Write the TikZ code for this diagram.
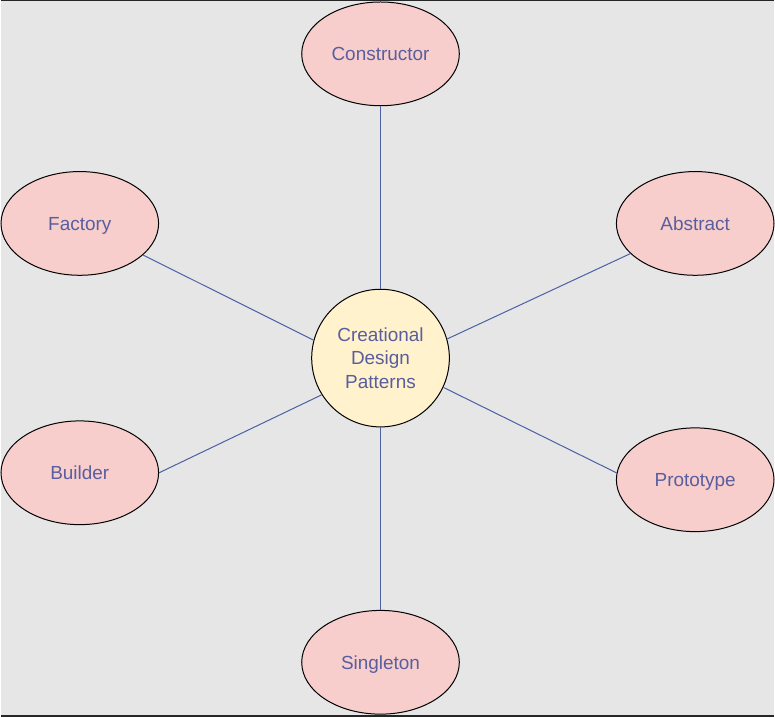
\documentclass[tikz,border=0pt]{standalone}
\usepackage{fontspec}
\setmainfont{Liberation Sans}
\usetikzlibrary{shapes.geometric}

\begin{document}
\begin{tikzpicture}[x=1pt, y=-1pt,
  leaf/.style={ellipse, draw=black, line width=1pt, fill=pinkfill, text=labelblue,
    minimum width=158pt, minimum height=104pt, inner sep=0pt,
    text height=13.5pt, text depth=0pt,
    font=\fontsize{19}{23.5}\selectfont},
  core/.style={circle, draw=black, line width=1pt, fill=yellowfill, text=labelblue,
    minimum size=138pt, inner sep=0pt, align=center,
    font=\fontsize{19}{23.5}\selectfont},
  link/.style={draw=linkblue, line width=1pt}]

\definecolor{bggray}{RGB}{230,230,230}
\definecolor{pinkfill}{RGB}{248,206,204}
\definecolor{yellowfill}{RGB}{255,242,204}
\definecolor{labelblue}{RGB}{88,94,158}
\definecolor{linkblue}{RGB}{76,96,166}

% Hintergrund
\fill[bggray] (0,0) rectangle (775,719);
\draw[black!85, line width=1pt] (0,0.5) -- (775,0.5);
\draw[black!85, line width=2pt] (0,718) -- (775,718);

% Knoten
\node[core] (patterns) at (380.5,359) {Creational\\Design\\Patterns};

\node[leaf] (constructor) at (380.5,54) {Constructor};
\node[leaf] (factory) at (79,224) {Factory};
\node[leaf] (abstract) at (696,224) {Abstract};
\node[leaf] (builder) at (79,474) {Builder};
\node[leaf] (prototype) at (696,481) {Prototype};
\node[leaf] (singleton) at (380.5,664) {Singleton};

% Verbindungen
\draw[link] (constructor) -- (patterns);
\draw[link] (factory) -- (patterns.165);
\draw[link] (abstract) -- (patterns.16);
\draw[link] (builder.east) -- (patterns.212);
\draw[link] (prototype.175) -- (patterns.-25);
\draw[link] (singleton) -- (patterns);

\end{tikzpicture}
\end{document}
